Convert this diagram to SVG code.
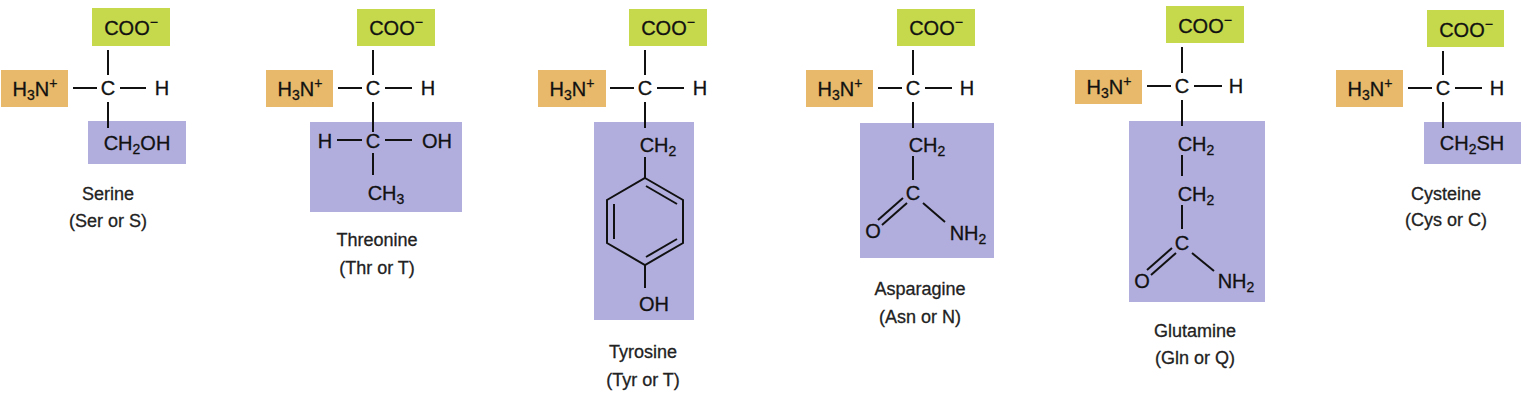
<svg xmlns="http://www.w3.org/2000/svg" width="1539" height="409" viewBox="0 0 1539 409">
<style>
.g{fill:#c6d84c}.o{fill:#e8b96a}.p{fill:#b1aede}
text{font-family:"Liberation Sans",Arial,sans-serif;font-size:20px;fill:#111;text-anchor:middle;stroke:#111;stroke-width:0.3}
.l{font-size:18px;fill:#222;stroke:#222}
.s{font-size:14px}
line,polyline,polygon{stroke:#111;stroke-width:2;fill:none}
</style>
<rect width="1539" height="409" fill="#fff"/>
<g id="serine">
<rect class="g" x="92" y="8" width="78" height="38"/><rect class="o" x="1" y="70" width="67" height="37"/><rect class="p" x="88" y="121" width="98" height="43"/>
<text x="131" y="35">COO<tspan class="s" dy="-8">−</tspan></text>
<text x="35" y="96">H<tspan class="s" dy="4">3</tspan><tspan dy="-4">N</tspan><tspan class="s" dy="-8">+</tspan></text>
<text x="108" y="95">C</text><text x="162" y="95">H</text>
<text x="137" y="150">CH<tspan class="s" dy="4">2</tspan><tspan dy="-4">OH</tspan></text>
<text class="l" x="108" y="200">Serine</text><text class="l" x="108" y="227">(Ser or S)</text>
</g>
<g id="threonine">
<rect class="g" x="357" y="9" width="78" height="37"/><rect class="o" x="266" y="70" width="67" height="37"/><rect class="p" x="310" y="122" width="152" height="90"/>
<text x="396" y="35">COO<tspan class="s" dy="-8">−</tspan></text>
<text x="300" y="96">H<tspan class="s" dy="4">3</tspan><tspan dy="-4">N</tspan><tspan class="s" dy="-8">+</tspan></text>
<text x="373" y="95">C</text><text x="428" y="95">H</text>
<text x="325" y="148">H</text><text x="373" y="148">C</text><text x="437" y="148">OH</text>
<text x="386" y="200">CH<tspan class="s" dy="4">3</tspan></text>
<text class="l" x="377" y="246">Threonine</text><text class="l" x="377" y="274">(Thr or T)</text>
</g>
<g id="tyrosine">
<rect class="g" x="629" y="9" width="78" height="37"/><rect class="o" x="538" y="70" width="68" height="37"/><rect class="p" x="594" y="122" width="100" height="198"/>
<text x="668" y="35">COO<tspan class="s" dy="-8">−</tspan></text>
<text x="572" y="96">H<tspan class="s" dy="4">3</tspan><tspan dy="-4">N</tspan><tspan class="s" dy="-8">+</tspan></text>
<text x="645" y="95">C</text><text x="700" y="95">H</text>
<text x="658" y="152">CH<tspan class="s" dy="4">2</tspan></text>
<text x="654" y="311">OH</text>
<text class="l" x="643" y="358">Tyrosine</text><text class="l" x="643" y="386">(Tyr or T)</text>
</g>
<g id="asparagine">
<rect class="g" x="897" y="9" width="78" height="37"/><rect class="o" x="806" y="70" width="67" height="37"/><rect class="p" x="860" y="123" width="134" height="135"/>
<text x="936" y="35">COO<tspan class="s" dy="-8">−</tspan></text>
<text x="840" y="96">H<tspan class="s" dy="4">3</tspan><tspan dy="-4">N</tspan><tspan class="s" dy="-8">+</tspan></text>
<text x="913" y="95">C</text><text x="967" y="95">H</text>
<text x="927" y="152">CH<tspan class="s" dy="4">2</tspan></text>
<text x="913" y="200">C</text><text x="873" y="238">O</text><text x="968" y="240">NH<tspan class="s" dy="4">2</tspan></text>
<text class="l" x="920" y="295">Asparagine</text><text class="l" x="920" y="323">(Asn or N)</text>
</g>
<g id="glutamine">
<rect class="g" x="1166" y="6" width="78" height="37"/><rect class="o" x="1075" y="70" width="67" height="34"/><rect class="p" x="1129" y="121" width="136" height="181"/>
<text x="1205" y="33">COO<tspan class="s" dy="-8">−</tspan></text>
<text x="1109" y="94">H<tspan class="s" dy="4">3</tspan><tspan dy="-4">N</tspan><tspan class="s" dy="-8">+</tspan></text>
<text x="1182" y="93">C</text><text x="1236" y="93">H</text>
<text x="1196" y="151">CH<tspan class="s" dy="4">2</tspan></text>
<text x="1196" y="201">CH<tspan class="s" dy="4">2</tspan></text>
<text x="1182" y="250">C</text><text x="1142" y="288">O</text><text x="1236" y="288">NH<tspan class="s" dy="4">2</tspan></text>
<text class="l" x="1195" y="337">Glutamine</text><text class="l" x="1195" y="364">(Gln or Q)</text>
</g>
<g id="cysteine">
<rect class="g" x="1427" y="10" width="77" height="37"/><rect class="o" x="1336" y="70" width="67" height="37"/><rect class="p" x="1424" y="122" width="97" height="42"/>
<text x="1466" y="37">COO<tspan class="s" dy="-8">−</tspan></text>
<text x="1370" y="96">H<tspan class="s" dy="4">3</tspan><tspan dy="-4">N</tspan><tspan class="s" dy="-8">+</tspan></text>
<text x="1443" y="95">C</text><text x="1497" y="95">H</text>
<text x="1472" y="150">CH<tspan class="s" dy="4">2</tspan><tspan dy="-4">SH</tspan></text>
<text class="l" x="1446" y="200">Cysteine</text><text class="l" x="1446" y="226">(Cys or C)</text>
</g>
<g id="bonds">
<line x1="108" y1="50" x2="108" y2="75"/><line x1="73" y1="88" x2="97" y2="88"/><line x1="120" y1="88" x2="146" y2="88"/><line x1="108" y1="102" x2="108" y2="128"/>
<line x1="373" y1="50" x2="373" y2="75"/><line x1="338" y1="88" x2="362" y2="88"/><line x1="385" y1="88" x2="412" y2="88"/><line x1="373" y1="102" x2="373" y2="132"/>
<line x1="337" y1="140" x2="362" y2="140"/><line x1="385" y1="140" x2="412" y2="140"/><line x1="373" y1="153" x2="373" y2="175"/>
<line x1="645" y1="50" x2="645" y2="75"/><line x1="610" y1="88" x2="634" y2="88"/><line x1="657" y1="88" x2="684" y2="88"/><line x1="645" y1="102" x2="645" y2="128"/>
<line x1="645" y1="157" x2="645" y2="178"/>
<polygon points="645,178 683,200 683,243 645,265 607,243 607,200"/>
<line x1="646" y1="186" x2="677" y2="204"/><line x1="614" y1="204" x2="614" y2="239"/><line x1="646" y1="257" x2="677" y2="239"/>
<line x1="645" y1="265" x2="645" y2="288"/>
<line x1="913" y1="50" x2="913" y2="75"/><line x1="878" y1="88" x2="902" y2="88"/><line x1="925" y1="88" x2="952" y2="88"/><line x1="913" y1="102" x2="913" y2="128"/>
<line x1="913" y1="156" x2="913" y2="180"/>
<line x1="903" y1="198" x2="878" y2="220"/><line x1="907" y1="203" x2="882" y2="225"/><line x1="923" y1="203" x2="945" y2="222"/>
<line x1="1182" y1="47" x2="1182" y2="73"/><line x1="1147" y1="86" x2="1171" y2="86"/><line x1="1194" y1="86" x2="1222" y2="86"/><line x1="1182" y1="100" x2="1182" y2="126"/>
<line x1="1182" y1="155" x2="1182" y2="176"/><line x1="1182" y1="205" x2="1182" y2="229"/>
<line x1="1172" y1="248" x2="1147" y2="270"/><line x1="1176" y1="253" x2="1151" y2="275"/><line x1="1192" y1="253" x2="1214" y2="271"/>
<line x1="1443" y1="51" x2="1443" y2="75"/><line x1="1408" y1="88" x2="1432" y2="88"/><line x1="1455" y1="88" x2="1482" y2="88"/><line x1="1443" y1="102" x2="1443" y2="128"/>
</g>
</svg>
